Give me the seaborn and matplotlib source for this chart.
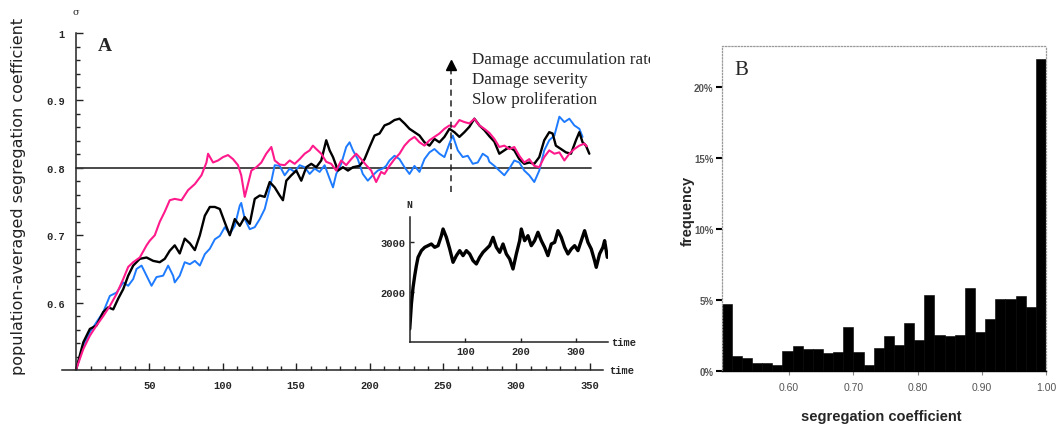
import numpy as np
import pandas as pd
import matplotlib
matplotlib.use("Agg")
import matplotlib.pyplot as plt
import seaborn as sns
from matplotlib.transforms import Bbox, TransformedBbox
from matplotlib.ticker import FixedLocator

sns.set_theme(style="white")
plt.rcParams['font.family'] = ['DejaVu Sans']

# ---------------- Panel A data (time, population-averaged segregation coefficient)
black_t = [0, 5.0, 9.5, 14.0, 18.6, 22.0, 25.4, 28.8, 32.2, 35.6, 39.0, 43.5, 48.1, 52.6, 57.1, 60.5,
           63.9, 67.3, 70.7, 74.1, 77.6, 81.0, 84.4, 87.8, 91.2, 94.6, 98.0, 101.4, 104.8, 108.2,
           111.6, 115.0, 118.4, 121.8, 125.2, 128.6, 132.0, 135.4, 138.8, 141.0, 143.3, 146.7, 150.1,
           153.5, 156.9, 160.3, 163.7, 167.1, 170.5, 172.8, 175.1, 178.5, 181.9, 185.3, 188.7, 193.2,
           196.6, 200.0, 203.4, 206.8, 210.2, 213.6, 217.0, 220.4, 223.8, 227.2, 230.6, 234.0, 237.4,
           240.8, 244.2, 247.6, 251.0, 254.4, 257.8, 261.2, 264.6, 268.0, 271.4, 274.8, 278.2, 281.6,
           285.0, 288.4, 291.8, 295.2, 298.6, 302.0, 305.4, 308.8, 312.2, 315.6, 319.0, 322.4, 324.7,
           326.9, 330.4, 333.8, 337.2, 340.6, 342.9, 345.1, 347.4, 349.7]
black_v = [0.500, 0.541, 0.561, 0.566, 0.586, 0.593, 0.590, 0.606, 0.620, 0.640, 0.655, 0.665, 0.667,
           0.662, 0.660, 0.665, 0.677, 0.685, 0.673, 0.695, 0.688, 0.678, 0.700, 0.729, 0.742, 0.742,
           0.739, 0.719, 0.700, 0.724, 0.714, 0.727, 0.717, 0.754, 0.759, 0.757, 0.779, 0.771, 0.759,
           0.752, 0.781, 0.789, 0.796, 0.781, 0.801, 0.806, 0.801, 0.811, 0.841, 0.826, 0.816, 0.796,
           0.801, 0.796, 0.801, 0.803, 0.813, 0.831, 0.848, 0.851, 0.863, 0.866, 0.871, 0.873, 0.866,
           0.858, 0.853, 0.848, 0.838, 0.833, 0.843, 0.838, 0.846, 0.858, 0.853, 0.846, 0.853, 0.861,
           0.873, 0.863, 0.856, 0.847, 0.839, 0.821, 0.826, 0.831, 0.826, 0.813, 0.806, 0.808, 0.806,
           0.816, 0.841, 0.853, 0.851, 0.833, 0.828, 0.823, 0.821, 0.841, 0.853, 0.838, 0.833, 0.821]

pink_t = [0, 5.0, 9.5, 14.0, 18.6, 23.1, 27.7, 32.2, 35.6, 39.0, 43.5, 48.1, 50.3, 53.7, 57.1, 60.5,
          63.9, 67.3, 71.9, 76.4, 81.0, 85.5, 88.9, 90.0, 93.4, 96.8, 100.2, 103.6, 107.0, 110.4,
          112.6, 115.0, 117.2, 119.5, 122.9, 126.3, 129.6, 133.1, 135.4, 138.8, 142.2, 145.6, 149.0,
          152.4, 155.8, 159.2, 161.4, 163.7, 167.1, 170.5, 173.9, 177.3, 180.7, 184.1, 187.5, 190.9,
          194.3, 197.7, 201.1, 204.5, 207.9, 210.2, 213.6, 217.0, 220.4, 223.8, 227.2, 230.6, 234.0,
          237.4, 240.8, 244.2, 247.6, 251.0, 254.4, 257.8, 261.2, 264.6, 268.0, 271.4, 274.8, 278.2,
          281.6, 285.0, 288.4, 291.8, 295.2, 298.6, 302.0, 305.4, 308.8, 312.2, 315.6, 319.0, 322.4,
          325.9, 329.3, 332.7, 336.1, 339.5, 342.9, 346.3, 348.0]
pink_v = [0.500, 0.531, 0.551, 0.566, 0.580, 0.595, 0.613, 0.635, 0.653, 0.660, 0.667, 0.685, 0.692,
          0.700, 0.720, 0.735, 0.752, 0.754, 0.752, 0.767, 0.776, 0.789, 0.808, 0.821, 0.808, 0.811,
          0.816, 0.819, 0.813, 0.804, 0.789, 0.757, 0.776, 0.796, 0.801, 0.808, 0.821, 0.831, 0.811,
          0.805, 0.804, 0.811, 0.806, 0.813, 0.821, 0.826, 0.833, 0.828, 0.821, 0.809, 0.806, 0.796,
          0.811, 0.804, 0.813, 0.821, 0.813, 0.804, 0.796, 0.779, 0.794, 0.791, 0.803, 0.813, 0.821,
          0.833, 0.841, 0.846, 0.838, 0.833, 0.841, 0.846, 0.851, 0.858, 0.863, 0.861, 0.871, 0.868,
          0.866, 0.873, 0.863, 0.858, 0.852, 0.843, 0.831, 0.833, 0.828, 0.831, 0.818, 0.808, 0.813,
          0.803, 0.801, 0.816, 0.826, 0.821, 0.823, 0.811, 0.821, 0.828, 0.833, 0.836, 0.832]

blue_t = [0, 5.0, 9.5, 14.0, 18.6, 23.1, 27.7, 32.2, 35.6, 39.0, 41.3, 44.7, 48.1, 51.5, 54.9, 59.4,
          62.8, 66.2, 67.3, 70.7, 74.1, 77.6, 81.0, 84.4, 87.8, 91.2, 94.6, 98.0, 101.4, 104.8, 108.2,
          111.6, 112.6, 115.0, 118.4, 121.8, 125.2, 128.6, 132.0, 135.4, 138.8, 142.2, 145.6, 149.0,
          152.4, 155.8, 159.2, 162.6, 166.0, 169.4, 172.8, 175.1, 177.3, 180.7, 184.1, 186.4, 188.7,
          192.0, 195.4, 198.8, 202.2, 205.6, 209.0, 211.3, 213.6, 217.0, 220.4, 223.8, 227.2, 230.6,
          234.0, 237.4, 240.8, 244.2, 247.6, 251.0, 254.4, 256.7, 260.1, 263.5, 266.9, 270.3, 273.7,
          277.1, 280.5, 281.6, 285.0, 288.4, 291.8, 295.2, 298.6, 302.0, 305.4, 308.8, 312.2, 315.6,
          319.0, 322.4, 325.9, 329.3, 332.7, 336.1, 339.5, 342.9, 345.1]
blue_v = [0.500, 0.536, 0.556, 0.571, 0.586, 0.610, 0.615, 0.630, 0.625, 0.635, 0.650, 0.655, 0.640,
          0.625, 0.638, 0.640, 0.655, 0.640, 0.630, 0.640, 0.660, 0.657, 0.662, 0.655, 0.672, 0.680,
          0.694, 0.699, 0.712, 0.702, 0.714, 0.744, 0.748, 0.724, 0.709, 0.712, 0.724, 0.739, 0.769,
          0.804, 0.803, 0.789, 0.799, 0.794, 0.804, 0.801, 0.791, 0.799, 0.794, 0.804, 0.784, 0.771,
          0.791, 0.806, 0.831, 0.838, 0.826, 0.813, 0.791, 0.781, 0.789, 0.796, 0.799, 0.803, 0.811,
          0.818, 0.813, 0.801, 0.791, 0.803, 0.794, 0.813, 0.823, 0.828, 0.821, 0.816, 0.836, 0.848,
          0.826, 0.816, 0.818, 0.806, 0.808, 0.821, 0.816, 0.809, 0.803, 0.796, 0.789, 0.799, 0.811,
          0.808, 0.796, 0.789, 0.779, 0.796, 0.826, 0.841, 0.848, 0.876, 0.868, 0.873, 0.863, 0.858,
          0.846]

# ---------------- Inset data (time, population size N)
inset_t = [0, 3.0, 6.0, 9.0, 12.0, 15.0, 21.0, 27.0, 33.0, 39.0, 45.0, 51.1, 57.1, 60.1, 66.1, 72.1,
           78.1, 84.1, 90.1, 96.1, 102.1, 108.1, 114.1, 120.1, 126.1, 132.1, 138.1, 144.1, 150.2,
           156.2, 162.2, 168.2, 174.2, 180.2, 186.2, 192.2, 198.2, 201.2, 207.2, 213.2, 219.2, 225.2,
           231.2, 237.2, 243.2, 249.2, 255.3, 261.3, 267.3, 273.3, 279.3, 285.3, 291.3, 297.3, 303.3,
           309.3, 315.3, 321.3, 327.3, 333.3, 336.3, 342.3, 348.3, 351.4, 356.2]
inset_n = [1242, 1749, 2087, 2324, 2527, 2696, 2831, 2899, 2932, 2966, 2899, 2932, 3135, 3270, 3101,
           2865, 2595, 2730, 2831, 2730, 2831, 2764, 2629, 2561, 2696, 2797, 2865, 2932, 3101, 2899,
           2797, 2966, 2764, 2662, 2459, 2764, 3034, 3270, 3034, 3135, 2932, 3034, 3203, 3034, 2899,
           2730, 2966, 3000, 3236, 3101, 2899, 2764, 2865, 2932, 2831, 3034, 3236, 3000, 2865, 2629,
           2493, 2764, 2899, 3034, 2696]

# ---------------- Panel B data (histogram of segregation coefficient, % frequency)
seg_bin_lo, seg_bin_hi, n_bins = 0.495, 1.0, 32
freq_pct = [4.72, 1.10, 0.91, 0.56, 0.56, 0.47, 1.40, 1.80, 1.57, 1.57, 1.26, 1.33, 3.08, 1.33, 0.47, 1.64,
            2.50, 1.87, 3.39, 2.20, 5.35, 2.55, 2.48, 2.55, 5.82, 2.73, 3.71, 5.07, 5.07, 5.26, 4.49, 21.95]

a_xticks = [50, 100, 150, 200, 250, 300, 350]
a_yticks = [0.6, 0.7, 0.8, 0.9, 1.0]
a_yticklabels = ['0.6', '0.7', '0.8', '0.9', '1']
inset_xticks = [100, 200, 300]
inset_yticks = [2000, 3000]
b_xticks = [0.6, 0.7, 0.8, 0.9, 1.0]
b_xticklabels = ['0.60', '0.70', '0.80', '0.90', '1.00']
b_yticks = [0, 5, 10, 15, 20]
b_yticklabels = ['0%', '5%', '10%', '15%', '20%']
legend_lines = ['Damage accumulation rate', 'Damage severity', 'Slow proliferation']

PINK = '#ff1a8c'
BLUE = '#1e7bff'
MONO = 'Liberation Mono'

fig = plt.figure(figsize=(10.56, 4.27), dpi=100)

# ================= Panel A =================
axA = fig.add_axes([0.0587, 0.1311, 0.5123, 0.789])
axA.set_facecolor('white')
sns.lineplot(x=blue_t, y=blue_v, ax=axA, color=BLUE, lw=1.4, estimator=None, sort=False)
sns.lineplot(x=black_t, y=black_v, ax=axA, color='black', lw=1.7, estimator=None, sort=False)
sns.lineplot(x=pink_t, y=pink_v, ax=axA, color=PINK, lw=1.5, estimator=None, sort=False)

ref_level, ref_end = 0.8, 351
axA.plot([0, ref_end], [ref_level, ref_level], color='#3a3a3a', lw=1.3, zorder=1)

arrow_t, arrow_y0, arrow_y1 = 255.6, 0.764, 0.948
axA.plot([arrow_t, arrow_t], [arrow_y0, arrow_y1], color='#222222', lw=1.1, ls=(0, (4, 3)))
axA.plot([arrow_t], [arrow_y1 + 0.005], marker='^', ms=7, color='black', mec='black')

axA.set_xlim(-9.5, 359)
axA.set_ylim(0.5, 1.0)
axA.spines['left'].set_position(('data', 0))
for s in ['top', 'right']:
    axA.spines[s].set_visible(False)
for s in ['left', 'bottom']:
    axA.spines[s].set_color('#222222')
    axA.spines[s].set_linewidth(1.1)

axA.xaxis.set_major_locator(FixedLocator(a_xticks))
axA.xaxis.set_minor_locator(FixedLocator(list(range(10, 360, 10))))
axA.yaxis.set_major_locator(FixedLocator(a_yticks))
axA.yaxis.set_minor_locator(FixedLocator([0.52 + 0.02 * i for i in range(24)]))
axA.set_xticklabels([str(v) for v in a_xticks], fontfamily=MONO, fontsize=7.5, fontweight='bold')
axA.set_yticklabels(a_yticklabels, fontfamily=MONO, fontsize=7.5, fontweight='bold')
axA.tick_params(axis='both', which='major', direction='in', length=5, width=1, color='#222222')
axA.tick_params(axis='both', which='minor', direction='in', length=3, width=1, color='#222222')
axA.tick_params(axis='y', which='major', pad=8)
axA.tick_params(axis='x', which='major', pad=7)
axA.tick_params(axis='both', which='both', left=True, bottom=True)

axA.set_xlabel('')
axA.set_ylabel('population-averaged segregation coefficient', fontsize=11.5, family='DejaVu Sans',
               color='#222222')
axA.yaxis.set_label_coords(-0.0813, 0.519)
axA.yaxis.label.set_va('center')

axA.text(0, 1.032, 'σ', ha='center', va='center', fontsize=7, family='DejaVu Serif', clip_on=False)
axA.text(363, 0.5, 'time', ha='left', va='center', fontsize=7.5, family=MONO, fontweight='bold',
         clip_on=False)
axA.text(19.7, 0.982, 'A', ha='center', va='center', fontsize=14, family='Liberation Serif',
         fontweight='bold')

clipbox = TransformedBbox(Bbox([[0, 0], [650 / 1056, 1]]), fig.transFigure)
for i, line in enumerate(legend_lines):
    txt = axA.text(270, 0.962 - 0.0297 * i, line, ha='left', va='center', fontsize=12.3,
                   family='Liberation Serif', clip_on=False)
    txt.set_clip_box(clipbox)
    txt.set_clip_on(True)

# ================= Inset =================
axI = fig.add_axes([0.388, 0.196, 0.1875, 0.2934])
axI.patch.set_alpha(0)
sns.lineplot(x=inset_t, y=inset_n, ax=axI, color='black', lw=2.4, estimator=None, sort=False)
axI.set_xlim(0, 357)
axI.set_ylim(972, 3513)
for s in ['top', 'right']:
    axI.spines[s].set_visible(False)
for s in ['left', 'bottom']:
    axI.spines[s].set_color('#222222')
    axI.spines[s].set_linewidth(1.1)
axI.xaxis.set_major_locator(FixedLocator(inset_xticks))
axI.yaxis.set_major_locator(FixedLocator(inset_yticks))
axI.set_xticklabels([str(v) for v in inset_xticks], fontfamily=MONO, fontsize=7.5, fontweight='bold')
axI.set_yticklabels([str(v) for v in inset_yticks], fontfamily=MONO, fontsize=7.5, fontweight='bold')
axI.tick_params(axis='both', which='major', direction='in', length=3, width=1, pad=3,
                left=True, bottom=True, color='#222222')
axI.set_xlabel('')
axI.set_ylabel('')
axI.text(0, 3780, 'N', ha='center', va='center', fontsize=7, family=MONO, fontweight='bold',
         clip_on=False)
axI.text(364, 972, 'time', ha='left', va='center', fontsize=7.5, family=MONO, fontweight='bold',
         clip_on=False)

# ================= Panel B =================
axB = fig.add_axes([0.6834, 0.1281, 0.3071, 0.7618])
bin_w = (seg_bin_hi - seg_bin_lo) / n_bins
centers = seg_bin_lo + bin_w * (np.arange(n_bins) + 0.5)
dfB = pd.DataFrame({'seg': centers, 'pct': freq_pct})
sns.histplot(data=dfB, x='seg', weights='pct', bins=n_bins, binrange=(seg_bin_lo, seg_bin_hi),
             ax=axB, color='black', alpha=1, edgecolor='black', linewidth=0.4)
axB.set_xlim(seg_bin_lo, seg_bin_hi)
axB.set_ylim(0, 22.86)
for s in ['top', 'left', 'right']:
    axB.spines[s].set_linestyle((0, (1, 1.5)))
    axB.spines[s].set_color('#9a9a9a')
    axB.spines[s].set_linewidth(0.9)
axB.spines['bottom'].set_color('black')
axB.spines['bottom'].set_linewidth(1.0)
axB.xaxis.set_major_locator(FixedLocator(b_xticks))
axB.yaxis.set_major_locator(FixedLocator(b_yticks))
axB.set_xticklabels(b_xticklabels, fontsize=7.5, color='#555555', family='Liberation Sans')
axB.set_yticklabels(b_yticklabels, fontsize=7, color='#555555', family='Liberation Sans',
                    fontweight='bold')
axB.tick_params(axis='y', which='major', direction='out', length=4, width=1.5, color='black',
                left=True, pad=2)
axB.tick_params(axis='x', which='major', direction='out', length=3, width=0.8, color='#888888',
                bottom=True, pad=5)
axB.set_xlabel('segregation coefficient', fontsize=10.5, fontweight='bold', family='Liberation Sans')
axB.set_ylabel('frequency', fontsize=10.5, fontweight='bold', family='Liberation Sans')
axB.xaxis.set_label_coords(0.493, -0.137)
axB.xaxis.label.set_va('center')
axB.yaxis.set_label_coords(-0.104, 0.496)
axB.yaxis.label.set_va('center')
axB.text(0.061, 0.929, 'B', transform=axB.transAxes, ha='center', va='center', fontsize=15,
         family='Liberation Serif')

fig.savefig('out.png', dpi=100)
